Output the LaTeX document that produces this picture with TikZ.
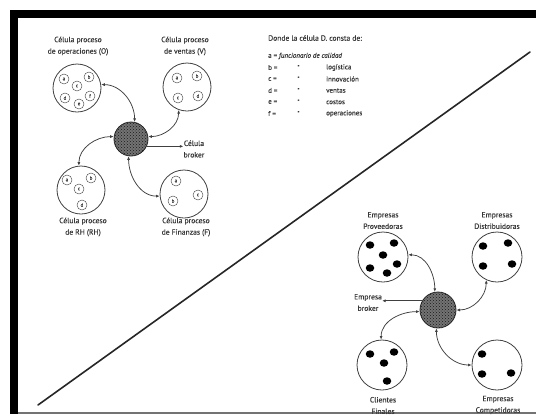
\documentclass[tikz,border=0pt]{standalone}
\usepackage{fontspec}
\setmainfont{PT Sans}
\newfontfamily\lblfont{PT Sans}[FakeBold=0.3]
\usetikzlibrary{arrows.meta,patterns,shapes.geometric}

\tikzset{
  cell/.style={circle, draw=black!75, line width=0.8pt, minimum size=48pt, inner sep=0pt},
  bigcell/.style={circle, draw=black!75, line width=0.8pt, minimum size=50pt, inner sep=0pt},
  broker/.style={circle, draw=black!85, line width=0.8pt, minimum size=34pt, inner sep=0pt,
    fill=black!55, postaction={pattern=crosshatch dots, pattern color=black!90}},
  member/.style={circle, draw=black!70, line width=0.45pt, minimum size=10pt, inner sep=0pt,
    text=black!75, font=\lblfont\fontsize{5}{5}\selectfont},
  firm/.style={ellipse, fill=black, minimum width=8.5pt, minimum height=7.5pt, inner sep=0pt},
  lbl/.style={align=center, text=black!78, font=\lblfont\fontsize{7.6}{11.5}\selectfont, inner sep=0pt},
  legend/.style={anchor=west, text=black!78, font=\lblfont\fontsize{7}{8}\selectfont, inner sep=0pt},
  link/.style={draw=black!75, line width=0.75pt,
    {Latex[length=3.6pt,width=3pt]}-{Latex[length=3.6pt,width=3pt]}},
  pointer/.style={draw=black!75, line width=0.75pt, -{Latex[length=3.6pt,width=3pt]}},
}

\begin{document}
\begin{tikzpicture}[x=1pt, y=-1pt]
  % page and frame
  \fill[white] (0,0) rectangle (536,416);
  \useasboundingbox (0,0) rectangle (536,416);
  \fill[black] (10,10) rectangle (536,18);
  \fill[black] (10,10) rectangle (18,414);
  \draw[black!55, line width=1.2pt] (18,413) -- (536,413);

  % dividing diagonal
  \coordinate (d1) at (38,405);
  \coordinate (d2) at (530,52);
  \draw[black!85, line width=1.6pt, line cap=round] (d1) -- (d2);

  % ---------- process cells ----------
  \node[cell] (cO) at (77,88) {};
  \node[cell] (cV) at (187,87) {};
  \node[cell] (cRH) at (81,190) {};
  \node[cell] (cF) at (184,194) {};
  \node[broker] (bL) at (131,139) {};

  \node[member] (o1) at (64,79) {a};
  \node[member] (o2) at (89,77) {b};
  \node[member] (o3) at (77,86) {c};
  \node[member] (o4) at (65,98) {d};
  \node[member] (o5) at (90,96) {f};
  \node[member] (o6) at (79,104) {e};

  \node[member] (v1) at (177,78) {a};
  \node[member] (v2) at (197,76) {b};
  \node[member] (v3) at (178,98) {c};
  \node[member] (v4) at (198,96) {d};

  \node[member] (r1) at (67,180) {a};
  \node[member] (r2) at (91,178) {b};
  \node[member] (r3) at (79,189) {c};
  \node[member] (r4) at (82,205) {d};

  \node[member] (f1) at (176,181) {a};
  \node[member] (f2) at (198,195) {c};
  \node[member] (f3) at (173,201) {b};

  \node[lbl] (tO) at (78,46) {Célula proceso\\de operaciones (O)};
  \node[lbl] (tV) at (185,46) {Célula proceso\\de ventas (V)};
  \node[lbl] (tRH) at (83,227) {Célula proceso\\de RH (RH)};
  \node[lbl] (tF) at (186,227) {Célula proceso\\de Finanzas (F)};
  \node[lbl] (tBL) at (194,149) {Célula\\broker};

  \draw[link] (cO.8) to[out=0, in=90] (bL.78);
  \draw[link] (cV.250) to[out=270, in=0] (bL.8);
  \draw[link] (bL.172) to[out=180, in=90] (cRH.95);
  \draw[link] (bL.262) to[out=270, in=180] (cF.185);
  \draw[pointer] (bL.-25) -- (bL.-25 -| tBL.west);

  % ---------- legend ----------
  \node[legend, font=\lblfont\fontsize{7.6}{8}\selectfont] (lh) at (268,38) {Donde la célula D. consta de:};
  \node[legend] (la) at (268,56) {a = \textit{funcionario de calidad}};
  \node[legend] (lb) at (268,67.5) {b =};
  \node[legend] (lc) at (268,79) {c =};
  \node[legend] (ld) at (268,90.5) {d =};
  \node[legend] (le) at (268,102) {e =};
  \node[legend] (lf) at (268,113.5) {f =};
  \foreach \y/\w [count=\i] in {67.5/logística, 79/innovación, 90.5/ventas, 102/costos, 113.5/operaciones}{
    \node[legend] (q\i) at (297,\y) {"};
    \node[legend] (w\i) at (326,\y) {\w};
  }

  % ---------- firm network ----------
  \node[bigcell] (eP) at (383,257) {};
  \node[bigcell] (eD) at (497,257) {};
  \node[bigcell] (eC) at (382,365) {};
  \node[bigcell] (eK) at (497,365) {};
  \node[broker, minimum size=36pt] (bR) at (438,310) {};

  \node[firm] (p1) at (370,245) {};
  \node[firm] (p2) at (394,243) {};
  \node[firm] (p3) at (383,255) {};
  \node[firm] (p4) at (370,268) {};
  \node[firm] (p5) at (397,264) {};
  \node[firm] (p6) at (387,273) {};

  \node[firm] (q1d) at (483,246) {};
  \node[firm] (q2d) at (508,243) {};
  \node[firm] (q3d) at (512,264) {};
  \node[firm] (q4d) at (483,266) {};

  \node[firm] (c1) at (370,354) {};
  \node[firm] (c2) at (394,352) {};
  \node[firm] (c3) at (384,363) {};
  \node[firm] (c4) at (387,381) {};

  \node[firm] (k1) at (482,354) {};
  \node[firm] (k2) at (482,374) {};
  \node[firm] (k3) at (511,373) {};

  \node[lbl] (tP) at (383,220.5) {Empresas\\Proveedoras};
  \node[lbl] (tD) at (497,220.5) {Empresas\\Distribuidoras};
  \node[lbl] (tC) at (383,405.5) {Clientes\\Finales};
  \node[lbl] (tK) at (498,405) {Empresas\\Competidoras};
  \node[lbl] (tBR) at (368,302.5) {Empresa\\broker};

  \draw[link] (eP.5) to[out=0, in=90] (bR.100);
  \draw[link] (eD.245) to[out=270, in=0] (bR.0);
  \draw[link] (bR.185) to[out=180, in=90] (eC.92);
  \draw[link] (bR.265) to[out=270, in=180] (eK.180);
  \draw[pointer] (bR.150) -- (bR.150 -| tBR.east);
\end{tikzpicture}
\end{document}
